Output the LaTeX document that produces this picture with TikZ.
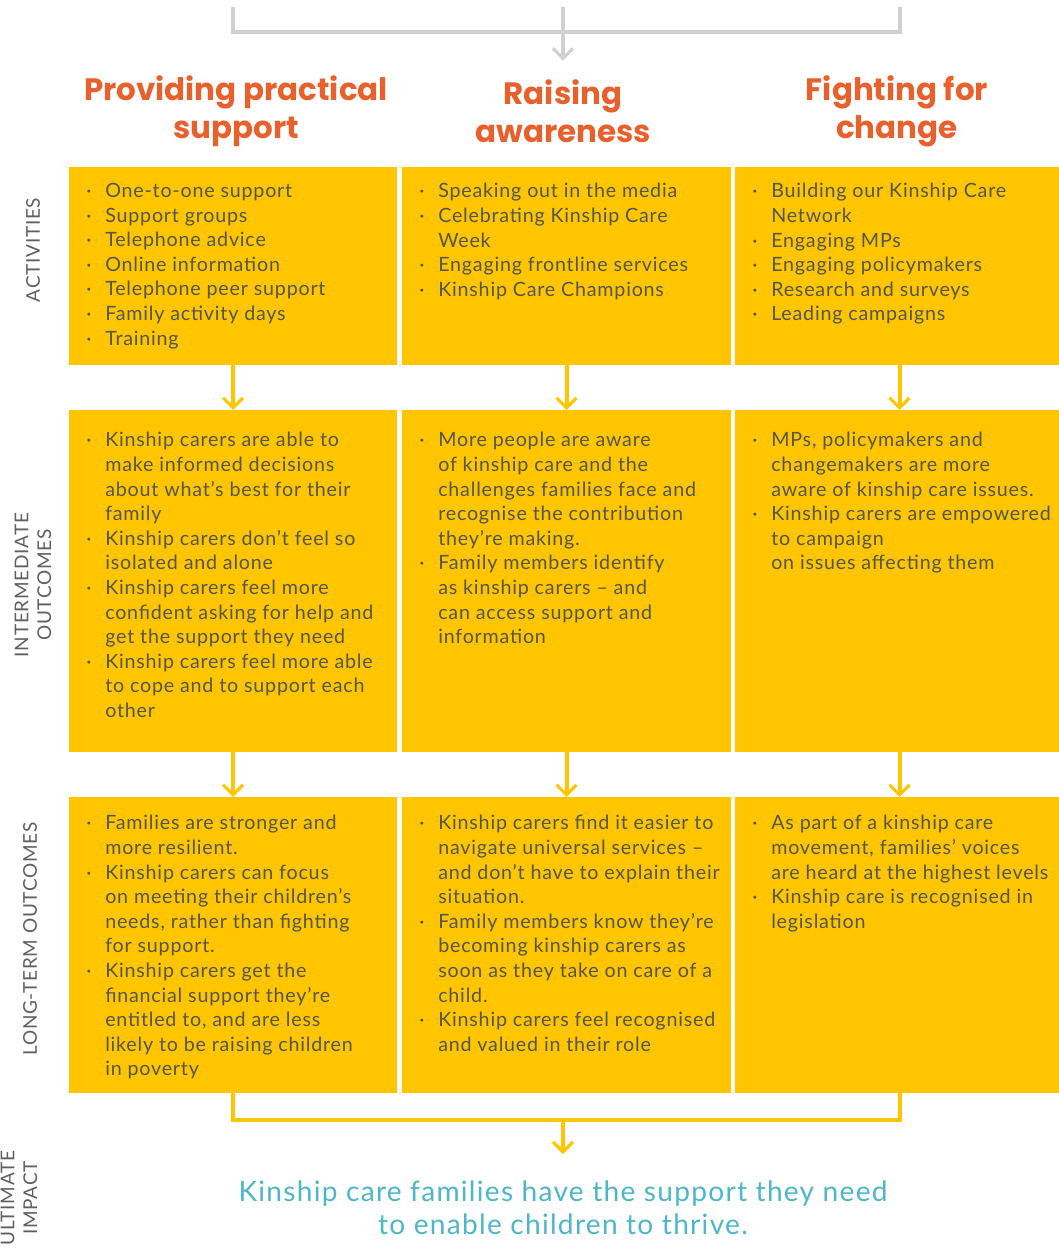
\documentclass[tikz,border=0pt]{standalone}
\usepackage{fontspec}
\setmainfont{Lato}
\newfontfamily\bodyfont{Lato}[LetterSpace=4]
\newfontfamily\sidefont{Lato}[LetterSpace=4]
\newfontfamily\impactfont{Lato}[LetterSpace=4.5]
\newfontfamily\headfont{Poppins}
\usepackage{tikz}
\usetikzlibrary{arrows.meta,positioning,calc}

\definecolor{kyellow}{RGB}{255,198,0}
\definecolor{korange}{RGB}{232,97,44}
\definecolor{kteal}{RGB}{77,183,199}
\definecolor{kgrey}{RGB}{208,208,208}
\definecolor{ktext}{RGB}{85,85,85}
\definecolor{kside}{RGB}{95,95,95}

\newcommand{\bul}{\makebox[0.475cm][l]{\textperiodcentered}}
\newcommand{\ind}{\hspace*{0.475cm}}

\tikzset{
    ybox/.style={fill=kyellow, inner sep=0pt, outer sep=0pt, anchor=north west},
    lst/.style={anchor=north west, align=left, inner sep=0pt, text=ktext,
        font=\bodyfont\fontsize{14}{17.5}\selectfont},
    head/.style={align=center, text=korange, font=\headfont\fontsize{22}{27}\selectfont\bfseries},
    side/.style={rotate=90, align=center, text=kside, font=\sidefont\fontsize{13.5}{16.3}\selectfont},
    yline/.style={draw=kyellow, line width=2.8pt},
    yarrow/.style={yline, -{Straight Barb[length=0.25cm, width=0.5cm, line width=2.2pt]}},
    gline/.style={draw=kgrey, line width=2.8pt},
    garrow/.style={gline, -{Straight Barb[length=0.25cm, width=0.5cm, line width=2.2pt]}},
}

\begin{document}
\begin{tikzpicture}[x=0.025cm, y=-0.025cm]
    \useasboundingbox (0,0) rectangle (1058,1253);

    % headings
    \node[head] (h1) at (236,111) {Providing practical\\support};
    \node[head] (h2) at (563,111) {Raising\\awareness};
    \node[head] (h3) at (897,111) {Fighting for\\change};

    \coordinate (g1) at (233,7);
    \coordinate (g2) at (563,7);
    \coordinate (g3) at (900,7);
    \draw[gline] (g1) -- (233,32) -- (900,32) -- (g3);
    \draw[garrow, shorten >=0.35cm] (g2) -- (h2.north);

    % boxes
    \node[ybox, minimum width=8.2cm, minimum height=4.95cm] (act1) at (69,167) {};
    \node[ybox, minimum width=8.225cm, minimum height=4.95cm] (act2) at (402,167) {};
    \node[ybox, minimum width=8.225cm, minimum height=4.95cm] (act3) at (735,167) {};

    \node[ybox, minimum width=8.2cm, minimum height=8.55cm] (mid1) at (69,410) {};
    \node[ybox, minimum width=8.225cm, minimum height=8.55cm] (mid2) at (402,410) {};
    \node[ybox, minimum width=8.225cm, minimum height=8.55cm] (mid3) at (735,410) {};

    \node[ybox, minimum width=8.2cm, minimum height=7.4cm] (long1) at (69,797) {};
    \node[ybox, minimum width=8.225cm, minimum height=7.4cm] (long2) at (402,797) {};
    \node[ybox, minimum width=8.225cm, minimum height=7.4cm] (long3) at (735,797) {};

    % box texts
    \node[lst] (act1t) at ([shift={(0.425cm,-0.4cm)}]act1.north west) {%
        \bul One-to-one support\\
        \bul Support groups\\
        \bul Telephone advice\\
        \bul Online information\\
        \bul Telephone peer support\\
        \bul Family activity days\\
        \bul Training};
    \node[lst] (act2t) at ([shift={(0.425cm,-0.4cm)}]act2.north west) {%
        \bul Speaking out in the media\\
        \bul Celebrating Kinship Care\\
        \ind Week\\
        \bul Engaging frontline services\\
        \bul Kinship Care Champions};
    \node[lst] (act3t) at ([shift={(0.425cm,-0.4cm)}]act3.north west) {%
        \bul Building our Kinship Care\\
        \ind Network\\
        \bul Engaging MPs\\
        \bul Engaging policymakers\\
        \bul Research and surveys\\
        \bul Leading campaigns};

    \node[lst] (mid1t) at ([shift={(0.425cm,-0.55cm)}]mid1.north west) {%
        \bul Kinship carers are able to\\
        \ind make informed decisions\\
        \ind about what’s best for their\\
        \ind family\\
        \bul Kinship carers don’t feel so\\
        \ind isolated and alone\\
        \bul Kinship carers feel more\\
        \ind confident asking for help and\\
        \ind get the support they need\\
        \bul Kinship carers feel more able\\
        \ind to cope and to support each\\
        \ind other};
    \node[lst] (mid2t) at ([shift={(0.425cm,-0.55cm)}]mid2.north west) {%
        \bul More people are aware\\
        \ind of kinship care and the\\
        \ind challenges families face and\\
        \ind recognise the contribution\\
        \ind they’re making.\\
        \bul Family members identify\\
        \ind as kinship carers – and\\
        \ind can access support and\\
        \ind information};
    \node[lst] (mid3t) at ([shift={(0.425cm,-0.55cm)}]mid3.north west) {%
        \bul MPs, policymakers and\\
        \ind changemakers are more\\
        \ind aware of kinship care issues.\\
        \bul Kinship carers are empowered\\
        \ind to campaign\\
        \ind on issues affecting them};

    \node[lst] (long1t) at ([shift={(0.425cm,-0.45cm)}]long1.north west) {%
        \bul Families are stronger and\\
        \ind more resilient.\\
        \bul Kinship carers can focus\\
        \ind on meeting their children’s\\
        \ind needs, rather than fighting\\
        \ind for support.\\
        \bul Kinship carers get the\\
        \ind financial support they’re\\
        \ind entitled to, and are less\\
        \ind likely to be raising children\\
        \ind in poverty};
    \node[lst] (long2t) at ([shift={(0.425cm,-0.45cm)}]long2.north west) {%
        \bul Kinship carers find it easier to\\
        \ind navigate universal services –\\
        \ind and don’t have to explain their\\
        \ind situation.\\
        \bul Family members know they’re\\
        \ind becoming kinship carers as\\
        \ind soon as they take on care of a\\
        \ind child.\\
        \bul Kinship carers feel recognised\\
        \ind and valued in their role};
    \node[lst] (long3t) at ([shift={(0.425cm,-0.45cm)}]long3.north west) {%
        \bul As part of a kinship care\\
        \ind movement, families’ voices\\
        \ind are heard at the highest levels\\
        \bul Kinship care is recognised in\\
        \ind legislation};

    % side labels
    \node[side] (lact) at (33,250) {ACTIVITIES};
    \node[side] (lmid) at (33,585) {INTERMEDIATE\\OUTCOMES};
    \node[side] (llong) at (30,939) {LONG-TERM OUTCOMES};
    \node[side] (limp) at (19,1198) {ULTIMATE\\IMPACT};

    % impact
    \node[align=center, text=kteal, font=\impactfont\fontsize{20}{23.5}\selectfont] (impact) at (563,1208)
        {Kinship care families have the support they need\\to enable children to thrive.};

    \draw[yarrow] (act1.south) -- (mid1.north);
    \draw[yarrow] (act2.south) -- (mid2.north);
    \draw[yarrow] (act3.south) -- (mid3.north);
    \draw[yarrow] (mid1.south) -- (long1.north);
    \draw[yarrow] (mid2.south) -- (long2.north);
    \draw[yarrow] (mid3.south) -- (long3.north);

    \coordinate (jn) at (563,1120);
    \draw[yline] (long1.south) -- (long1.south |- jn) -- (long3.south |- jn) -- (long3.south);
    \draw[yarrow, shorten >=0.55cm] (jn) -- (impact.north);

\end{tikzpicture}
\end{document}
